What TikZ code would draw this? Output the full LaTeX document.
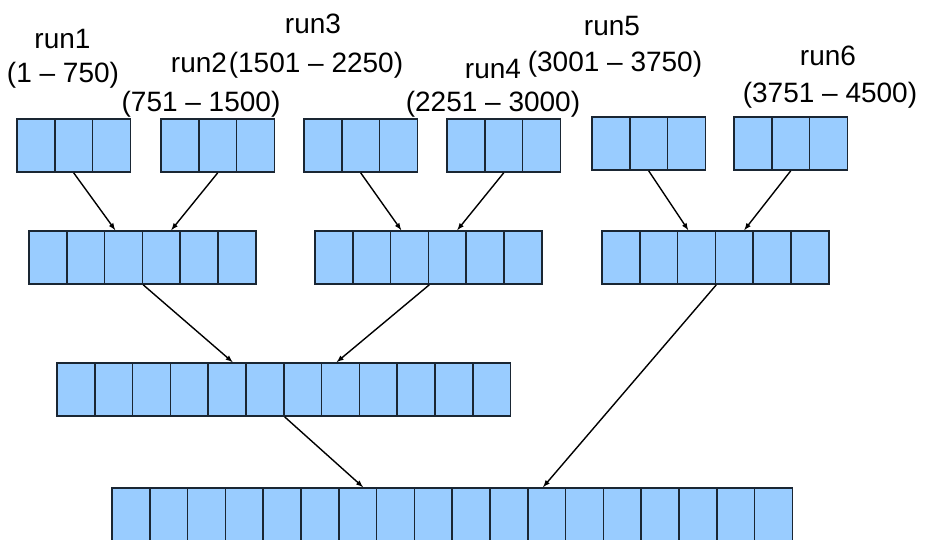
\documentclass[tikz,border=0pt]{standalone}
\usepackage{fontspec}
\setmainfont{Liberation Sans}
\usetikzlibrary{arrows}
\usetikzlibrary{calc}
\definecolor{cellblue}{HTML}{99CCFF}
\definecolor{celledge}{HTML}{1A2633}

\begin{document}
\begin{tikzpicture}[x=1pt,y=-1pt,font=\fontsize{28}{31}\selectfont,
	cell/.style={draw=celledge,fill=cellblue,line width=1.7pt,minimum width=37.8pt,minimum height=53pt,inner sep=0pt},
	merge/.style={->,>=latex,line width=1.4pt},
	lab/.style={anchor=base,inner sep=0pt}]
	\useasboundingbox (0,0) rectangle (925,539);
	\clip (0,0) rectangle (925,539);
	\foreach \run/\px/\py/\n in {a1/17/119/3, a2/161/119/3, a3/304/119/3, a4/447/119/3, a5/592/117/3, a6/734/117/3, b1/29/231/6, b2/315/231/6, b3/602/231/6, c1/57/363/12, d1/112/488/18} {
		\foreach \i in {1,...,\n} {
			\node[cell] (\run-\i) at ({\px+(\i-0.5)*37.8},{\py+26.5}) {};
		}
	}
	\draw[merge] (a1-2.south) -- ($(b1-3.north east)+(-28,0)$);
	\draw[merge] (a2-2.south) -- ($(b1-3.north east)+(28,0)$);
	\draw[merge] (a3-2.south) -- ($(b2-3.north east)+(-28,0)$);
	\draw[merge] (a4-2.south) -- ($(b2-3.north east)+(28,0)$);
	\draw[merge] (a5-2.south) -- ($(b3-3.north east)+(-28,0)$);
	\draw[merge] (a6-2.south) -- ($(b3-3.north east)+(28,0)$);
	\draw[merge] (b1-3.south east) -- ($(c1-6.north east)+(-52,0)$);
	\draw[merge] (b2-3.south east) -- ($(c1-6.north east)+(52,0)$);
	\draw[merge] (c1-6.south east) -- ($(d1-9.north east)+(-90,0)$);
	\draw[merge] (b3-3.south east) -- ($(d1-9.north east)+(90,0)$);
	\node[lab] (run1) at (62.5,48) {run1};
	\node[lab] (rng1) at (63,82) {(1 – 750)};
	\node[lab] (run2) at (199,72) {run2};
	\node[lab] (rng2) at (201,111) {(751 – 1500)};
	\node[lab] (run3) at (313,33) {run3};
	\node[lab] (rng3) at (316,72) {(1501 – 2250)};
	\node[lab] (run4) at (493,78) {run4};
	\node[lab] (rng4) at (493,111) {(2251 – 3000)};
	\node[lab] (run5) at (612,35) {run5};
	\node[lab] (rng5) at (615,71) {(3001 – 3750)};
	\node[lab] (run6) at (828,65) {run6};
	\node[lab] (rng6) at (830,102) {(3751 – 4500)};
\end{tikzpicture}
\end{document}
